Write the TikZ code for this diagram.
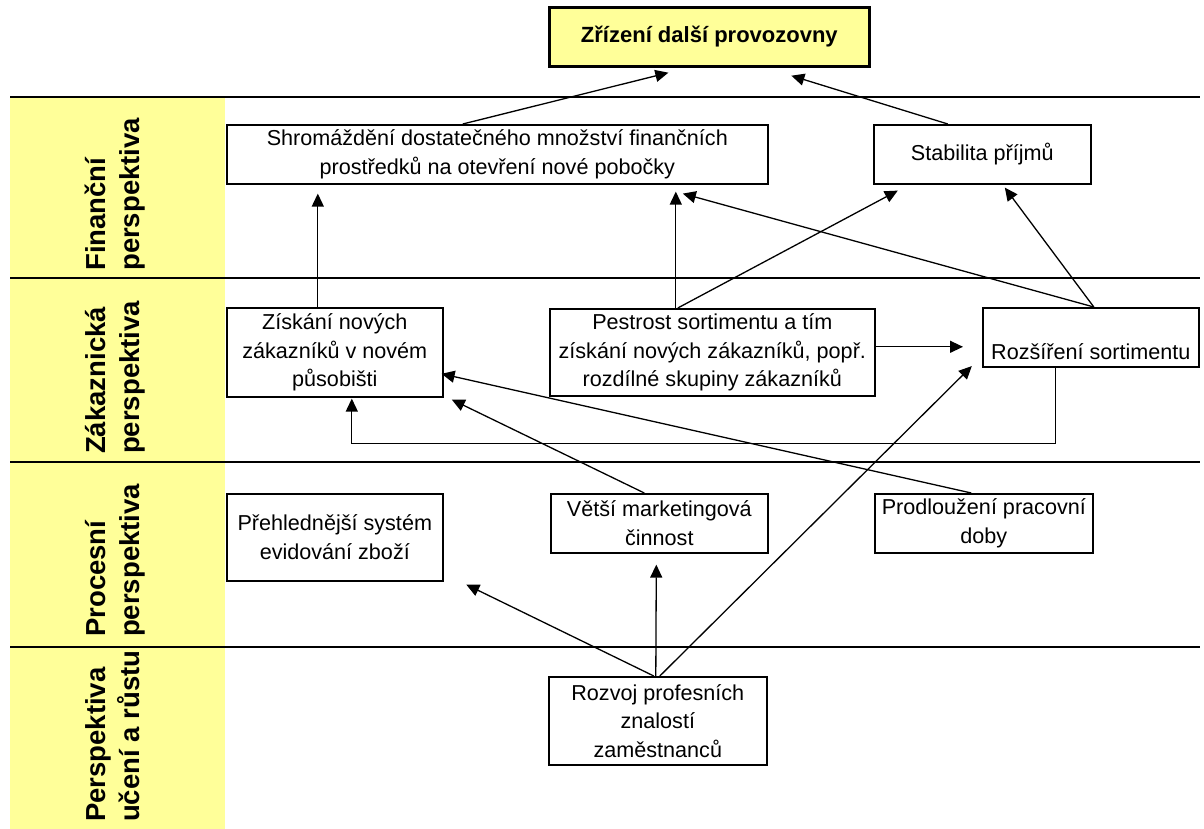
\documentclass[tikz,border=0pt]{standalone}
\usepackage{fontspec}
\setmainfont{Liberation Sans}
\usetikzlibrary{arrows.meta}
\definecolor{paleyellow}{HTML}{FFFF99}
\begin{document}
\begin{tikzpicture}[x=1pt,y=-1pt,
  box/.style={draw, line width=1.6pt, fill=white, anchor=north west, inner sep=0pt,
    align=center, font=\fontsize{21.6}{28.5}\selectfont},
  goal/.style={box, fill=paleyellow, line width=2.7pt, font=\bfseries\fontsize{22}{26}\selectfont},
  lane/.style={rotate=90, anchor=north west, inner sep=0pt, align=left,
    font=\bfseries\fontsize{27.5}{34}\selectfont},
  link/.style={line width=1.3pt, -{Triangle[length=13pt,width=12pt]}},
  band/.style={line width=2pt}]
\useasboundingbox (0,0) rectangle (1204,829);

% perspective column and band separators
\fill[paleyellow] (10,97) rectangle (225,829);
\foreach \yy in {97,278,462,647} \draw[band] (10,\yy) -- (1200,\yy);

% perspective labels
\node[lane] (fin)  at (85,271) {Finanční\\perspektiva};
\node[lane] (zak)  at (85,454) {Zákaznická\\perspektiva};
\node[lane] (proc) at (85,637) {Procesní\\perspektiva};
\node[lane] (ucen) at (85,822) {Perspektiva\\učení a růstu};

% goal
\node[goal, minimum width=320pt, minimum height=59pt] (goal) at (548,6) {Zřízení další provozovny};

% financial perspective
\node[box, minimum width=541pt, minimum height=59pt] (shrom) at (226,124)
  {Shromáždění dostatečného množství finančních\\prostředků na otevření nové pobočky};
\node[box, minimum width=217pt, minimum height=59pt] (stab) at (873,124) {Stabilita příjmů};

% customer perspective
\node[box, minimum width=216pt, minimum height=89pt] (zisk) at (226,307)
  {Získání nových\\zákazníků v novém\\působišti};
\node[box, minimum width=325pt, minimum height=87pt] (pest) at (549,308)
  {Pestrost sortimentu a tím\\získání nových zákazníků, popř.\\rozdílné skupiny zákazníků};
\node[box, minimum width=216pt, minimum height=59pt] (rozs) at (982,307)
  {\raisebox{-22pt}[0pt][0pt]{Rozšíření sortimentu}};

% process perspective
\node[box, minimum width=216pt, minimum height=87pt] (prehl) at (226,493)
  {Přehlednější systém\\evidování zboží};
\node[box, minimum width=217pt, minimum height=59pt] (vet) at (550,493)
  {Větší marketingová\\činnost};
\node[box, minimum width=218pt, minimum height=59pt] (prod) at (874,493)
  {Prodloužení pracovní\\doby};

% learning and growth perspective
\node[box, minimum width=218pt, minimum height=88pt] (rozv) at (548,676)
  {Rozvoj profesních\\znalostí\\zaměstnanců};

% cause-and-effect links
\draw[link] ([xshift=-34.5pt]shrom.north) -- ([xshift=-41pt,yshift=-5pt]goal.south);
\draw[link] ([xshift=-34.5pt]stab.north) -- ([xshift=82pt,yshift=-8pt]goal.south);
\draw[link] ([xshift=-17pt]zisk.north) -- ([xshift=-179.5pt,yshift=-9pt]shrom.south);
\draw[link] ([xshift=-36.5pt]pest.north) -- ([xshift=178.5pt,yshift=-7pt]shrom.south);
\draw[link] ([xshift=-34.5pt]pest.north) -- ([xshift=-84.5pt,yshift=-6pt]stab.south);
\draw[link] ([xshift=3pt]rozs.north) -- ([xshift=185.5pt,yshift=-9pt]shrom.south);
\draw[link] ([xshift=3pt]rozs.north) -- ([xshift=22.5pt,yshift=-3pt]stab.south);
\draw[link] ([yshift=5.5pt]pest.east) -- ([xshift=-19pt,yshift=-9.5pt]rozs.west);
\draw[link] ([xshift=-35pt]rozs.south) -- ++(0,76) -| ([xshift=17pt,yshift=-1pt]zisk.south);
\draw[link] ([xshift=-12.5pt]prod.north) -- ([xshift=-2pt,yshift=-21.5pt]zisk.east);
\draw[link] ([xshift=-15pt]vet.north) -- ([xshift=117pt,yshift=-2pt]zisk.south);
\draw[link] ([xshift=-4pt]rozv.north) -- ([xshift=131.5pt,yshift=-3pt]prehl.south);
\draw[link] ([xshift=-2pt]rozv.north) -- ([xshift=-3pt,yshift=-11pt]vet.south);
\draw[link] ([xshift=2pt]rozv.north) -- ([xshift=-119pt,yshift=1.5pt]rozs.south);
\end{tikzpicture}
\end{document}
